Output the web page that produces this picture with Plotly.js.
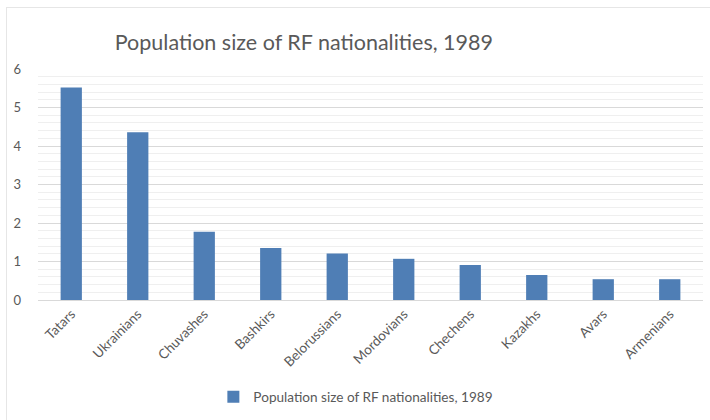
<!DOCTYPE html>
<html>
<head>
<meta charset="utf-8">
<script src="https://cdn.plot.ly/plotly-3.0.1.min.js"></script>
<style>
  html, body { margin: 0; padding: 0; background: #fff; }
  #wrap { position: relative; width: 710px; height: 420px; }
  #chart { width: 710px; height: 420px; }
  #frame { position: absolute; left: 6px; top: 7px; width: 720px; height: 430px;
           border-left: 1.5px solid #e6e6e6; border-top: 1.5px solid #e6e6e6; pointer-events: none; }
</style>
</head>
<body>
<div id="wrap">
  <div id="chart"></div>
  <div id="frame"></div>
</div>
<script>
const chartTitle = "Population size of RF nationalities, 1989";
const seriesName = "Population size of RF nationalities, 1989";
const categories = ["Tatars", "Ukrainians", "Chuvashes", "Bashkirs", "Belorussians",
                    "Mordovians", "Chechens", "Kazakhs", "Avars", "Armenians"];
const values = [5.52, 4.36, 1.77, 1.35, 1.21, 1.07, 0.91, 0.65, 0.54, 0.54];
const yTicks = [0, 1, 2, 3, 4, 5, 6];

const font = "Lato, 'Open Sans', sans-serif";
const gray = "#595959";

const trace = {
  type: "bar",
  x: categories,
  y: values,
  name: seriesName,
  marker: { color: "#4f7eb5" },
  showlegend: true,
  hoverinfo: "x+y"
};

const layout = {
  width: 710,
  height: 420,
  margin: { l: 38, r: 7, t: 69, b: 120 },
  paper_bgcolor: "#ffffff",
  plot_bgcolor: "#ffffff",
  bargap: 0.68,
  font: { family: font, color: gray, size: 13 },
  title: {
    text: chartTitle,
    font: { family: font, size: 21.5, color: gray },
    xref: "container", yref: "container",
    x: 0.428, xanchor: "center",
    y: 0.9, yanchor: "middle"
  },
  xaxis: {
    type: "category",
    tickangle: -45,
    tickfont: { family: font, size: 13.5, color: gray },
    showline: true,
    linecolor: "#d9d9d9",
    linewidth: 1,
    showgrid: false,
    ticks: "",
    fixedrange: true
  },
  yaxis: {
    range: [0, 6],
    tickvals: yTicks,
    ticktext: yTicks.map(String),
    tickfont: { family: font, size: 13, color: gray },
    showgrid: true,
    gridcolor: "#d9d9d9",
    gridwidth: 1,
    zeroline: false,
    showline: false,
    ticks: "",
    ticklabelstandoff: 16,
    minor: { dtick: 0.2, showgrid: true, gridcolor: "#efefef", gridwidth: 1 },
    fixedrange: true
  },
  showlegend: true,
  legend: {
    orientation: "h",
    itemwidth: 30,
    x: 0.478, xanchor: "center",
    y: -0.42, yanchor: "middle",
    font: { family: font, size: 13.6, color: gray }
  }
};

Plotly.newPlot("chart", [trace], layout, { displayModeBar: false, staticPlot: true });
</script>
</body>
</html>
